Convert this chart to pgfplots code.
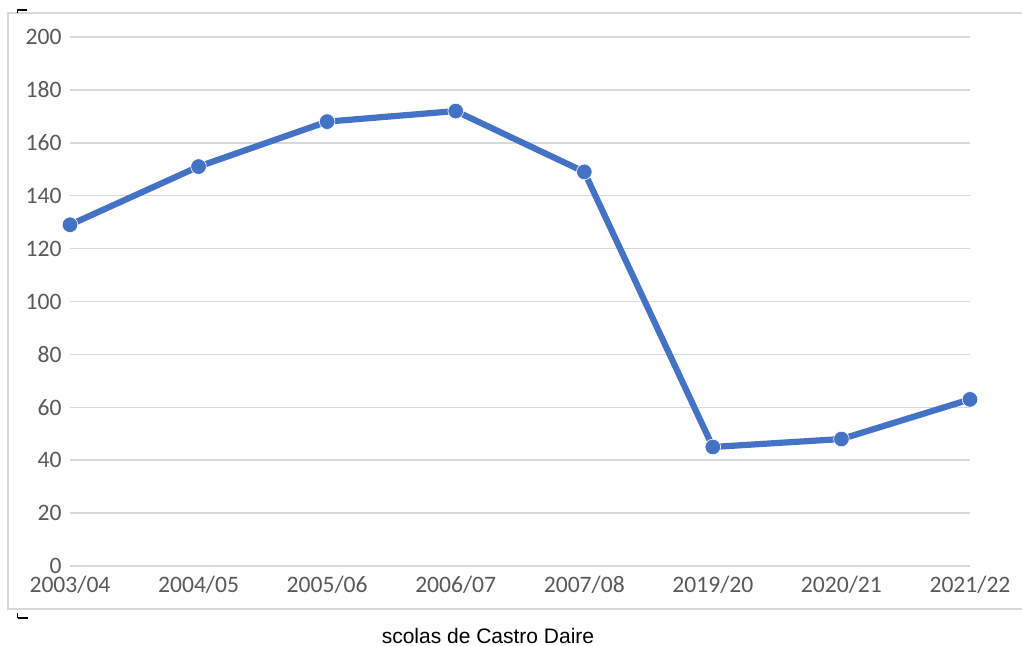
\documentclass[border=0pt]{standalone}
\usepackage{pgfplots}
\pgfplotsset{compat=1.18}
\usepackage{fontspec}
\setmainfont{Carlito}
\newfontfamily\arial{Liberation Sans}
\definecolor{linecol}{HTML}{4472C4}
\definecolor{gridcol}{HTML}{D9D9D9}
\definecolor{labcol}{HTML}{595959}
\begin{document}
\begin{tikzpicture}
\useasboundingbox (-35pt,-40pt) rectangle (476pt,283pt);
\draw[gridcol, line width=0.6pt] (-31pt,-21.5pt) rectangle (478pt,276.5pt);
\begin{axis}[
  at={(0pt,0pt)}, anchor=origin,
  scale only axis, width=450pt, height=264.5pt,
  xmin=0, xmax=7, ymin=0, ymax=200,
  ytick={0,20,...,200},
  xtick={0,...,7},
  xticklabels={2003/04,2004/05,2005/06,2006/07,2007/08,2019/20,2020/21,2021/22},
  axis line style={draw=none},
  major tick length=0pt,
  ymajorgrids, grid style={gridcol, line width=0.75pt},
  /pgf/number format/assume math mode=true,
  tick label style={font=\fontsize{11.8}{14}\selectfont, text=labcol},
  yticklabel style={anchor=east, inner sep=0pt, xshift=-4pt},
  xticklabel style={anchor=north, inner sep=0pt, yshift=-5pt},
  clip=false,
]
\addplot[linecol, line width=3.1pt, mark=*, mark size=3.9pt,
  mark options={fill=linecol, draw=white, line width=0.3pt}]
  coordinates {(0,129) (1,151) (2,168) (3,172) (4,149) (5,45) (6,48) (7,63)};
\end{axis}
\node[anchor=base, inner sep=0pt, font=\arial\fontsize{10.5}{12}\selectfont] at (209pt,-39pt) {scolas de Castro Daire};
\node[anchor=base, inner sep=0pt, font=\arial\fontsize{8.9}{10}\selectfont] at (217.5pt,284.5pt) {,};
\draw[black, line width=1pt] (-26.5pt,278pt) -- (-21.5pt,278pt);
\draw[black, line width=0.6pt] (-26.3pt,278pt) -- (-26.3pt,276.5pt);
\draw[black, line width=1pt] (-26pt,-26pt) -- (-21pt,-26pt);
\draw[black, line width=0.6pt] (-26.3pt,-26pt) -- (-26.3pt,-23.5pt);
\end{tikzpicture}
\end{document}
